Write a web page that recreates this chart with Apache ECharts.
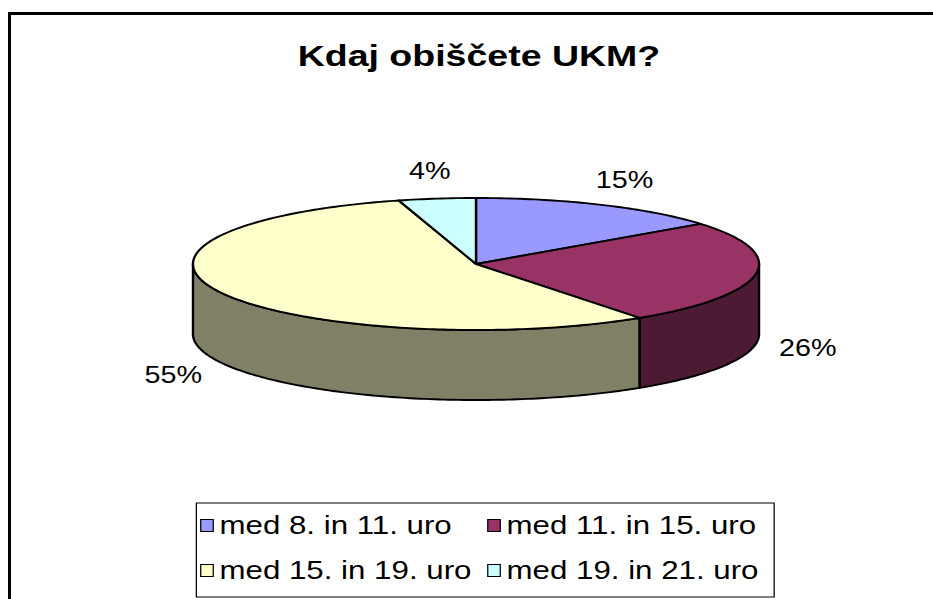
<!DOCTYPE html>
<html>
<head>
<meta charset="utf-8">
<script src="https://cdn.jsdelivr.net/npm/echarts@6.0.0/dist/echarts.min.js"></script>
<style>
html, body { margin: 0; padding: 0; overflow: hidden; background: #fff; }
#chart { width: 746px; height: 599px; transform: scaleX(1.25067); transform-origin: 0 0; }
</style>
</head>
<body>
<div id="chart"></div>
<script>
// ---- data ----
const categories = ['med 8. in 11. uro', 'med 11. in 15. uro', 'med 15. in 19. uro', 'med 19. in 21. uro'];
const shares = [14.6, 25.6, 55.4, 4.4];
const titleText = 'Kdaj obiščete UKM?';

// ---- styles ----
const topColors = ['#9999FF', '#993366', '#FFFFCC', '#CCFFFF'];
const sideColors = ['#4D4D80', '#4D1A33', '#808066', '#668080'];
const FONT = '"Liberation Sans", Arial, Helvetica, sans-serif';
const PIE = { cx: 380.6, cy: 264, rx: 226.3, ry: 66, depth: 70, gx: 42, gy: 28 };

const total = shares.reduce((a, b) => a + b, 0);

function pt(t, dy) {
  const r = t * Math.PI / 180;
  return [PIE.cx + PIE.rx * Math.sin(r), PIE.cy - PIE.ry * Math.cos(r) + (dy || 0)];
}
function arc(a, b, dy) {
  const pts = [];
  const n = Math.max(2, Math.ceil(b - a));
  for (let k = 0; k <= n; k++) pts.push(pt(a + (b - a) * k / n, dy));
  return pts;
}

function makeRender(i) {
  return function (params, api) {
    let start = 0;
    for (let j = 0; j < i; j++) start += shares[j] / total * 360;
    const end = start + api.value(0) / total * 360;
    const children = [];
    const s = Math.max(start, 90), e = Math.min(end, 270);
    if (e > s) {
      children.push({
        type: 'polygon',
        shape: { points: arc(s, e, 0).concat(arc(s, e, PIE.depth).reverse()) },
        style: { fill: sideColors[i], stroke: '#000', lineWidth: 1.9, lineJoin: 'round' }
      });
    }
    children.push({
      type: 'polygon',
      shape: { points: [[PIE.cx, PIE.cy]].concat(arc(start, end, 0)) },
      style: { fill: api.visual('color'), stroke: '#000', lineWidth: 1.9, lineJoin: 'round' }
    });
    const mid = (start + end) / 2 * Math.PI / 180;
    const front = Math.cos(mid) < 0 ? PIE.depth : 0;
    children.push({
      type: 'text',
      x: PIE.cx + (PIE.rx + PIE.gx) * Math.sin(mid),
      y: PIE.cy - (PIE.ry + PIE.gy) * Math.cos(mid) + front,
      style: {
        text: Math.round(api.value(0) / total * 100) + '%',
        fill: '#000', fontSize: 23, fontFamily: FONT,
        align: 'center', verticalAlign: 'middle'
      }
    });
    return { type: 'group', children: children };
  };
}

const chart = echarts.init(document.getElementById('chart'), null, { renderer: 'svg' });
chart.setOption({
  backgroundColor: '#fff',
  animation: false,
  title: {
    text: titleText, left: 238, top: 40, padding: 0,
    textStyle: { fontSize: 30, fontWeight: 'bold', fontFamily: FONT, color: '#000' }
  },
  legend: {
    data: categories, left: 157, top: 503, width: 452, orient: 'horizontal',
    icon: 'rect', itemWidth: 10, itemHeight: 12, itemGap: 10,
    padding: [5, 10, 9, 3], borderColor: '#000', borderWidth: 1,
    selectedMode: false,
    itemStyle: { borderColor: '#000', borderWidth: 1 },
    textStyle: { fontSize: 25, fontFamily: FONT, color: '#000', width: 204, lineHeight: 35 }
  },
  graphic: [
    { type: 'line', shape: { x1: 7.6, y1: 12, x2: 7.6, y2: 640 }, style: { stroke: '#000', lineWidth: 2.4 } },
    { type: 'line', shape: { x1: 6.4, y1: 13.5, x2: 760, y2: 13.5 }, style: { stroke: '#000', lineWidth: 3 } }
  ],
  series: categories.map((name, i) => ({
    type: 'custom', name: name, coordinateSystem: 'none',
    renderItem: makeRender(i), data: [shares[i]],
    itemStyle: { color: topColors[i], borderColor: '#000', borderWidth: 1 },
    silent: true
  }))
});
</script>
</body>
</html>
